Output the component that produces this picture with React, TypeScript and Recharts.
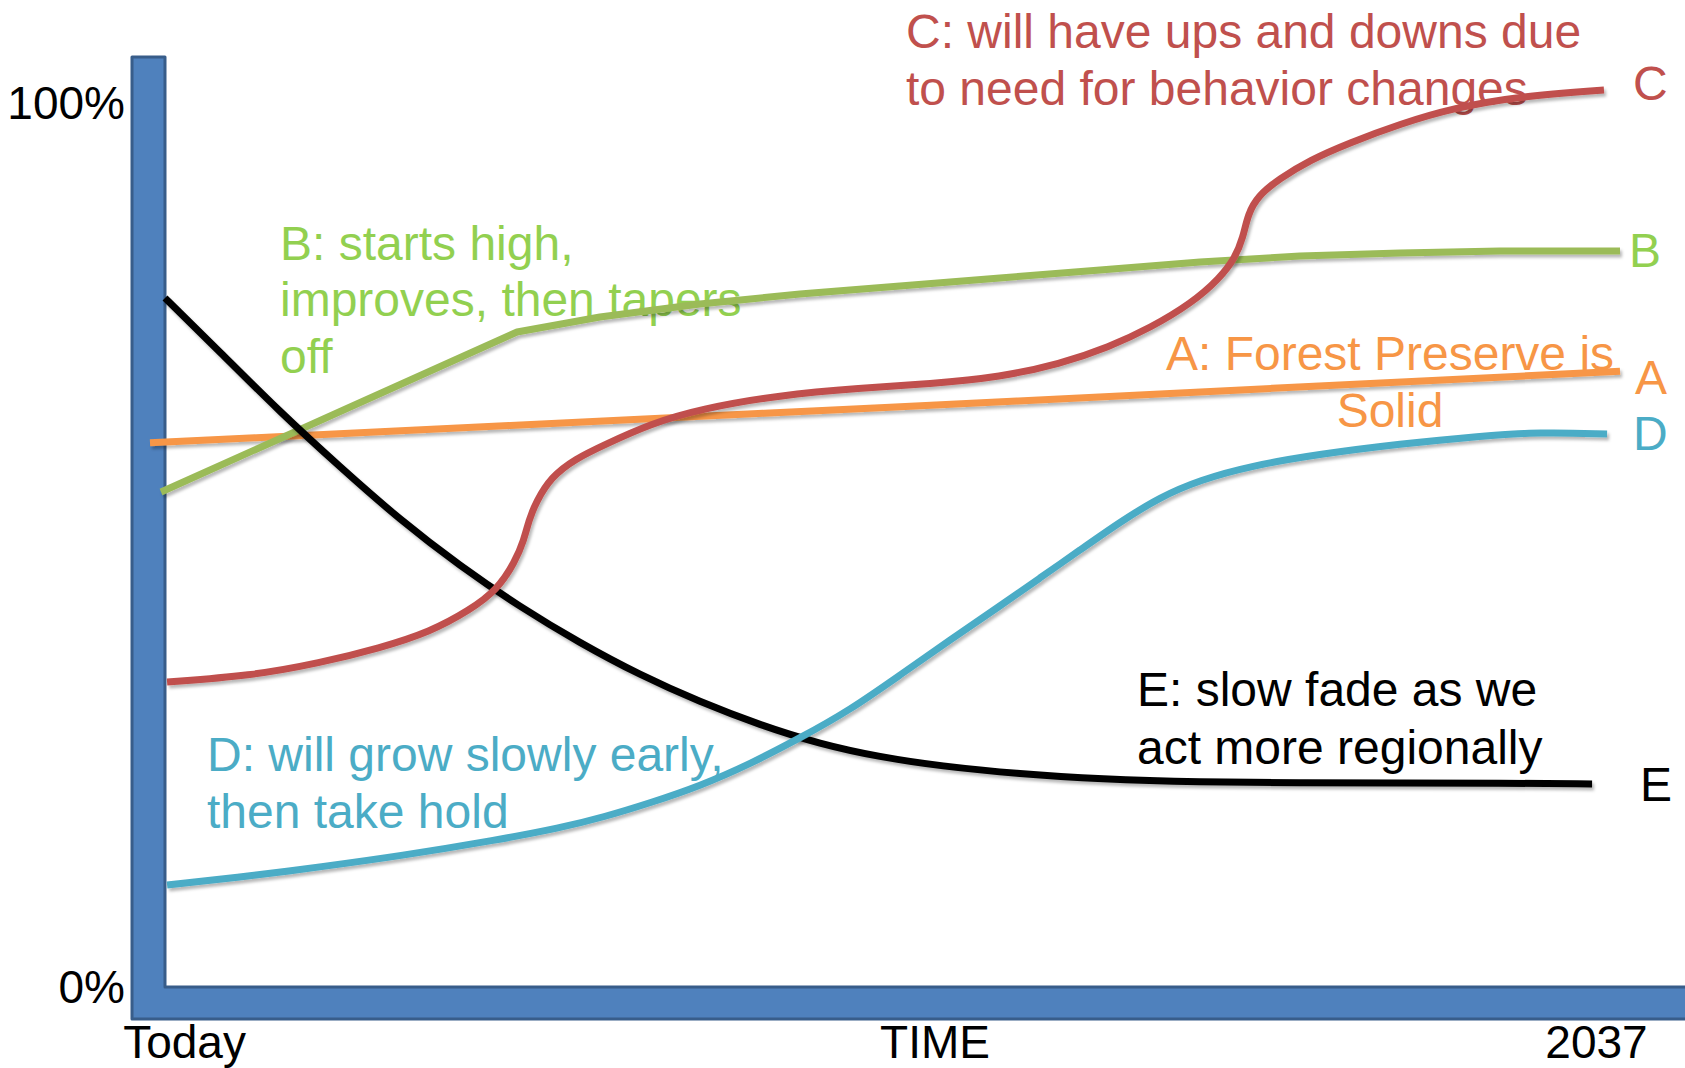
import { LineChart, Line, XAxis, YAxis } from 'recharts'

const FONT = '"Liberation Sans", Arial, Helvetica, sans-serif'

// x: share of the way from Today (0) to 2037 (100), y: percent
const timeA = [0, 50, 100]
const forestA = [61.7, 65.7, 69.8]

const timeB = [0.75, 12.86, 24.97, 30.61, 37.41, 44.22, 51.02, 57.82, 64.63, 71.43, 78.23, 85.03, 91.84, 100]
const improveB = [56.13, 65.19, 74.24, 75.94, 77.41, 78.54, 79.45, 80.35, 81.26, 82.16, 82.84, 83.18, 83.41, 83.41]

const timeC = [1.16, 6.8, 11.56, 15.65, 19.05, 21.77, 23.61, 24.83, 25.44, 25.78, 26.26, 27.28, 28.91, 30.88, 34.01, 37.41, 42.86, 48.3, 53.06, 57.89, 61.9, 65.24, 68.03, 70.88, 72.79, 73.81, 74.35, 74.69, 75.37, 76.8, 78.91, 81.56, 85.03, 88.64, 93.33, 98.91]
const behaviorC = [34.63, 35.31, 36.78, 38.48, 40.29, 42.78, 45.04, 48.21, 50.7, 52.97, 55.0, 57.83, 59.87, 61.45, 63.83, 65.53, 67.11, 67.9, 68.36, 69.15, 70.62, 72.54, 74.69, 77.52, 80.35, 82.62, 84.88, 87.6, 89.63, 91.56, 93.71, 95.63, 97.78, 99.59, 100.95, 101.63]

const timeD = [1.16, 6.8, 11.56, 17.01, 23.61, 27.89, 30.88, 34.01, 37.41, 40.82, 44.22, 47.62, 51.02, 54.42, 57.82, 60.54, 63.27, 65.99, 68.71, 71.43, 74.83, 79.59, 85.03, 90.48, 94.56, 99.12]
const growD = [11.66, 12.68, 13.7, 14.94, 16.75, 18.11, 19.35, 20.94, 22.86, 25.35, 28.29, 31.46, 35.42, 39.38, 43.23, 46.4, 49.57, 52.74, 55.57, 57.49, 59.08, 60.43, 61.57, 62.47, 62.92, 62.7]

const timeE = [1.02, 4.76, 8.84, 12.93, 17.01, 21.09, 25.17, 29.25, 33.33, 37.41, 41.5, 45.58, 49.66, 53.74, 59.18, 64.63, 71.43, 78.23, 85.03, 91.84, 98.1]
const fadeE = [78.09, 71.98, 65.19, 58.96, 52.97, 47.76, 43.12, 39.04, 35.42, 32.37, 29.76, 27.61, 26.14, 25.12, 24.22, 23.65, 23.31, 23.2, 23.2, 23.2, 23.09]

const xTickValues = [2.35, 53.4, 98.4]
const xTickLabels = ['Today', 'TIME', '2037']
const yTickValues = [0, 100]
const yTickLabels = ['0%', '100%']

const RED = '#C0504D'
const GREEN = '#9BBB59'
const GREEN_TEXT = '#92D050'
const ORANGE = '#F79646'
const CYAN = '#4BACC6'

function pts(t: number[], v: number[]) {
  return t.map((x, i) => ({ t: x, v: v[i] }))
}

function XTick({ x, y, payload }: any) {
  const i = xTickValues.indexOf(payload.value)
  return (
    <text x={x} y={y} dy={70} textAnchor="middle" fontSize={46} fontFamily={FONT} fill="#000">
      {xTickLabels[i]}
    </text>
  )
}

function YTick({ x, y, payload }: any) {
  const i = yTickValues.indexOf(payload.value)
  return (
    <text x={x} y={y} dy={15} textAnchor="end" fontSize={46} fontFamily={FONT} fill="#000">
      {yTickLabels[i]}
    </text>
  )
}

function Backdrop() {
  const t = { fontFamily: FONT, fontSize: 48 }
  return (
    <svg width={1685} height={1068} style={{ position: 'absolute', left: 0, top: 0 }}>
      <defs>
        <filter id="shade" x="-5%" y="-5%" width="110%" height="120%">
          <feDropShadow dx="2" dy="3" stdDeviation="1.5" floodColor="#000" floodOpacity="0.28" />
        </filter>
      </defs>
      {/* thick blue axes */}
      <path
        d="M132 57 H165 V987 H1690 V1019 H132 Z"
        fill="#4F81BD"
        stroke="#385D8A"
        strokeWidth={3}
        strokeLinejoin="round"
      />

      <text {...t} fill={RED}>
        <tspan x={906} y={48}>C: will have ups and downs due</tspan>
        <tspan x={906} y={105}>to need for behavior changes</tspan>
      </text>
      <text {...t} fill={GREEN_TEXT}>
        <tspan x={280} y={260}>B: starts high,</tspan>
        <tspan x={280} y={316}>improves, then tapers</tspan>
        <tspan x={280} y={373}>off</tspan>
      </text>
      <text {...t} fill={ORANGE} textAnchor="middle">
        <tspan x={1390} y={370}>A: Forest Preserve is</tspan>
        <tspan x={1390} y={427}>Solid</tspan>
      </text>
      <text {...t} fill={CYAN}>
        <tspan x={207} y={771}>D: will grow slowly early,</tspan>
        <tspan x={207} y={828}>then take hold</tspan>
      </text>
      <text {...t} fill="#000">
        <tspan x={1137} y={706}>E: slow fade as we</tspan>
        <tspan x={1137} y={764}>act more regionally</tspan>
      </text>

      <text {...t} x={1633} y={100} fill={RED}>C</text>
      <text {...t} x={1629} y={267} fill={GREEN_TEXT}>B</text>
      <text {...t} x={1635} y={394} fill={ORANGE}>A</text>
      <text {...t} x={1633} y={450} fill={CYAN}>D</text>
      <text {...t} x={1640} y={801} fill="#000">E</text>
    </svg>
  )
}

export default function App() {
  return (
    <div style={{ position: 'absolute', left: 0, top: 0, width: 1685, height: 1068, background: '#fff' }}>
      <Backdrop />
      <div style={{ position: 'absolute', left: 0, top: 0 }}>
        <LineChart width={1685} height={1068} margin={{ top: 16, right: 65, left: 0, bottom: 0 }}>
          <XAxis
            type="number"
            dataKey="t"
            domain={[0, 100]}
            ticks={xTickValues}
            tick={<XTick />}
            tickSize={0}
            tickMargin={0}
            axisLine={false}
            tickLine={false}
            height={80}
            interval={0}
          />
          <YAxis
            type="number"
            domain={[0, 110]}
            ticks={yTickValues}
            tick={<YTick />}
            tickSize={0}
            tickMargin={25}
            axisLine={false}
            tickLine={false}
            width={150}
            interval={0}
          />
          <Line data={pts(timeA, forestA)} dataKey="v" type="linear" stroke={ORANGE} strokeWidth={7} dot={false} activeDot={false} isAnimationActive={false} filter="url(#shade)" />
          <Line data={pts(timeB, improveB)} dataKey="v" type="linear" stroke={GREEN} strokeWidth={7} strokeLinejoin="round" dot={false} activeDot={false} isAnimationActive={false} filter="url(#shade)" />
          <Line data={pts(timeE, fadeE)} dataKey="v" type="basis" stroke="#000" strokeWidth={7} dot={false} activeDot={false} isAnimationActive={false} filter="url(#shade)" />
          <Line data={pts(timeD, growD)} dataKey="v" type="basis" stroke={CYAN} strokeWidth={7} dot={false} activeDot={false} isAnimationActive={false} filter="url(#shade)" />
          <Line data={pts(timeC, behaviorC)} dataKey="v" type="basis" stroke={RED} strokeWidth={7} dot={false} activeDot={false} isAnimationActive={false} filter="url(#shade)" />
        </LineChart>
      </div>
    </div>
  )
}
